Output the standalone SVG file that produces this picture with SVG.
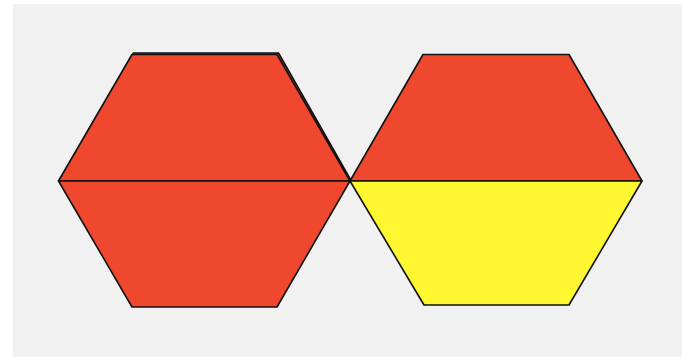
<svg xmlns="http://www.w3.org/2000/svg" width="682" height="357" viewBox="0 0 682 357">
<style>
.s{stroke:#111;stroke-width:1.6;stroke-linejoin:round}
.r{fill:#ef482f}
.y{fill:#fff72f}
</style>
<rect x="0" y="0" width="682" height="357" fill="#ffffff"/>
<rect x="13" y="4" width="669" height="353" fill="#f1f1f1"/>
<g id="hex-left">
<polygon class="s r" points="133.5,53 278.5,53 351,180.5 59,181"/>
<polygon class="s r" points="58.5,181 132,54.5 277,54.5 350,181"/>
<polygon class="s r" points="58.5,181 350,181 277,307 132,307"/>
</g>
<g id="hex-right">
<polygon class="s r" points="350,181 423,54.5 569,54.5 642,181"/>
<polygon class="s y" points="350,181 642,181 569,305 424,305"/>
</g>
</svg>
